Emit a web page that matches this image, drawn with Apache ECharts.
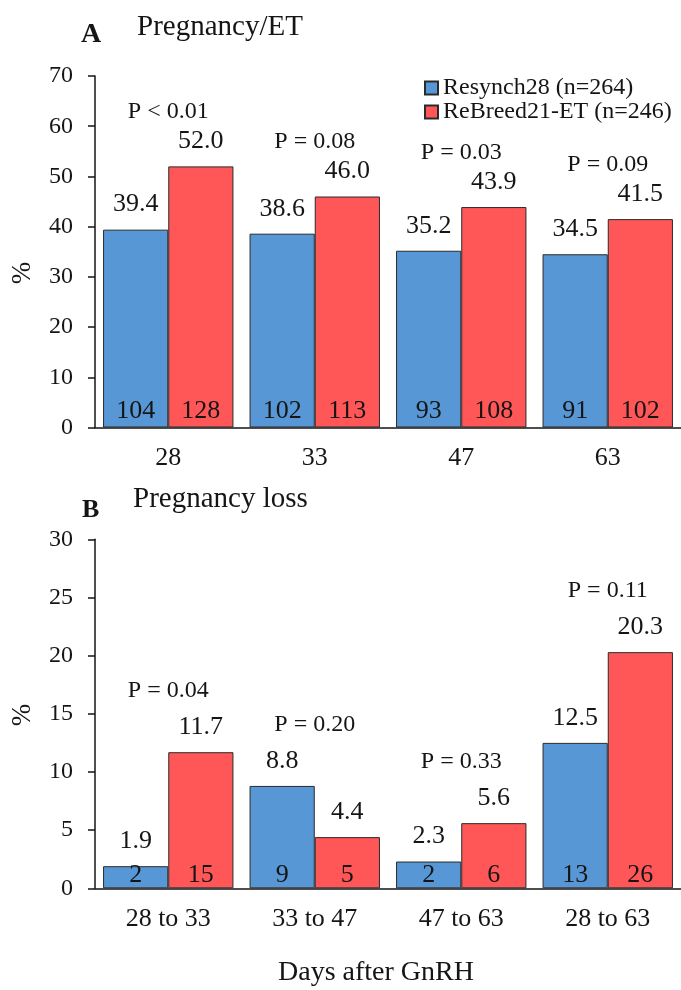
<!DOCTYPE html>
<html>
<head>
<meta charset="utf-8">
<script src="https://cdn.jsdelivr.net/npm/echarts@6/dist/echarts.min.js"></script>
<style>
  html, body { margin: 0; padding: 0; background: #fff; }
  #chart { width: 681px; height: 990px; }
</style>
</head>
<body>
<div id="chart"></div>
<script>
// Panel A: pregnancy per embryo transfer by day after GnRH
const daysA = ['28', '33', '47', '63'];
const resynchPregPct = [39.4, 38.6, 35.2, 34.5];
const rebreedPregPct = [52.0, 46.0, 43.9, 41.5];
const resynchPregN = [104, 102, 93, 91];
const rebreedPregN = [128, 113, 108, 102];
const pValuesA = ['P < 0.01', 'P = 0.08', 'P = 0.03', 'P = 0.09'];

// Panel B: pregnancy loss between days after GnRH
const intervalsB = ['28 to 33', '33 to 47', '47 to 63', '28 to 63'];
const resynchLossPct = [1.9, 8.8, 2.3, 12.5];
const rebreedLossPct = [11.7, 4.4, 5.6, 20.3];
const resynchLossN = [2, 9, 2, 13];
const rebreedLossN = [15, 5, 6, 26];
const pValuesB = ['P = 0.04', 'P = 0.20', 'P = 0.33', 'P = 0.11'];

const yTicksA = { min: 0, max: 70, interval: 10 };
const yTicksB = { min: 0, max: 30, interval: 5 };

const groupNames = ['Resynch28 (n=264)', 'ReBreed21-ET (n=246)'];

const FONT = '"Liberation Serif", "Times New Roman", serif';
const INK = '#151515';
const BLUE = '#5797d5';
const RED = '#ff5757';
const GAP = '11%';

const chart = echarts.init(document.getElementById('chart'), null, { renderer: 'canvas' });

function valueAxis(grid, ticks) {
  return {
    type: 'value', gridIndex: grid,
    min: ticks.min, max: ticks.max, interval: ticks.interval,
    axisLine: { show: true, lineStyle: { color: INK, width: 1.5 } },
    axisTick: { show: true, length: 7, lineStyle: { color: INK, width: 1.5 } },
    axisLabel: { fontFamily: FONT, fontSize: 24, color: INK, margin: 22 },
    splitLine: { show: false }
  };
}

function catAxis(grid, cats, visible) {
  return {
    type: 'category', gridIndex: grid, data: cats, show: visible,
    axisLine: { show: true, lineStyle: { color: INK, width: 1.5 } },
    axisTick: { show: false },
    axisLabel: { fontFamily: FONT, fontSize: 26, color: INK, margin: 18 }
  };
}

function mainBar(name, color, values, xi, yi) {
  return {
    name: name, type: 'bar', xAxisIndex: xi, yAxisIndex: yi,
    data: values, barGap: '0%', barCategoryGap: GAP,
    itemStyle: { color: color, borderColor: '#2a2a2a', borderWidth: 1 },
    label: {
      show: true, position: 'top', distance: 12,
      fontFamily: FONT, fontSize: 26, color: INK,
      formatter: p => p.value.toFixed(1)
    },
    emphasis: { disabled: true }
  };
}

// transparent twin bars on a hidden axis carry the count labels at the bar base
function countBar(values, counts, xi, yi, dist) {
  return {
    type: 'bar', xAxisIndex: xi, yAxisIndex: yi, silent: true,
    data: values, barGap: '0%', barCategoryGap: GAP,
    itemStyle: { color: 'rgba(0,0,0,0)' },
    label: {
      show: true, position: 'insideBottom', distance: dist,
      fontFamily: FONT, fontSize: 26, color: INK,
      formatter: p => String(counts[p.dataIndex])
    },
    emphasis: { disabled: true }
  };
}

// P-value text centred over each category, above the taller bar
function pLabels(a, b, texts, xi, yi, dist) {
  return {
    type: 'scatter', xAxisIndex: xi, yAxisIndex: yi, silent: true,
    symbolSize: 1, itemStyle: { color: 'rgba(0,0,0,0)', opacity: 1 },
    data: a.map((v, i) => Math.max(v, b[i])),
    label: {
      show: true, position: 'top', distance: dist,
      fontFamily: FONT, fontSize: 24, color: INK, opacity: 1,
      formatter: p => texts[p.dataIndex]
    },
    emphasis: { disabled: true }
  };
}

function txt(x, y, text, size, weight, align, rot) {
  return {
    type: 'text', x: x, y: y, rotation: rot || 0, silent: true,
    style: {
      text: text, fontFamily: FONT, fontSize: size, fontWeight: weight,
      fill: INK, textAlign: align, textVerticalAlign: 'middle'
    }
  };
}

const option = {
  backgroundColor: '#ffffff',
  animation: false,
  grid: [
    { left: 95, top: 76, width: 586, height: 351.5 },
    { left: 95, top: 539.3, width: 586, height: 349 }
  ],
  xAxis: [
    catAxis(0, daysA, true),
    catAxis(0, daysA, false),
    catAxis(1, intervalsB, true),
    catAxis(1, intervalsB, false)
  ],
  yAxis: [valueAxis(0, yTicksA), valueAxis(1, yTicksB)],
  legend: {
    data: groupNames, orient: 'vertical', left: 424, top: 76, padding: 0,
    itemWidth: 13, itemHeight: 13, itemGap: 0, icon: 'rect',
    textStyle: { fontFamily: FONT, fontSize: 24, color: INK, lineHeight: 24 },
    selectedMode: false
  },
  series: [
    mainBar(groupNames[0], BLUE, resynchPregPct, 0, 0),
    mainBar(groupNames[1], RED, rebreedPregPct, 0, 0),
    countBar(resynchPregPct, resynchPregN, 1, 0, 3),
    countBar(rebreedPregPct, rebreedPregN, 1, 0, 3),
    pLabels(resynchPregPct, rebreedPregPct, pValuesA, 0, 0, 42),

    mainBar(groupNames[0], BLUE, resynchLossPct, 2, 1),
    mainBar(groupNames[1], RED, rebreedLossPct, 2, 1),
    countBar(resynchLossPct, resynchLossN, 3, 1, 0),
    countBar(rebreedLossPct, rebreedLossN, 3, 1, 0),
    pLabels(resynchLossPct, rebreedLossPct, pValuesB, 2, 1, 49)
  ],
  graphic: [
    txt(81, 35, 'A', 28, 'bold', 'left'),
    txt(137, 27, 'Pregnancy/ET', 29, 'normal', 'left'),
    txt(82, 510, 'B', 26, 'bold', 'left'),
    txt(133, 499, 'Pregnancy loss', 29, 'normal', 'left'),
    txt(23, 273, '%', 27, 'normal', 'center', Math.PI / 2),
    txt(23, 715, '%', 27, 'normal', 'center', Math.PI / 2),
    txt(376, 973, 'Days after GnRH', 28, 'normal', 'center')
  ]
};

chart.setOption(option);
</script>
</body>
</html>
